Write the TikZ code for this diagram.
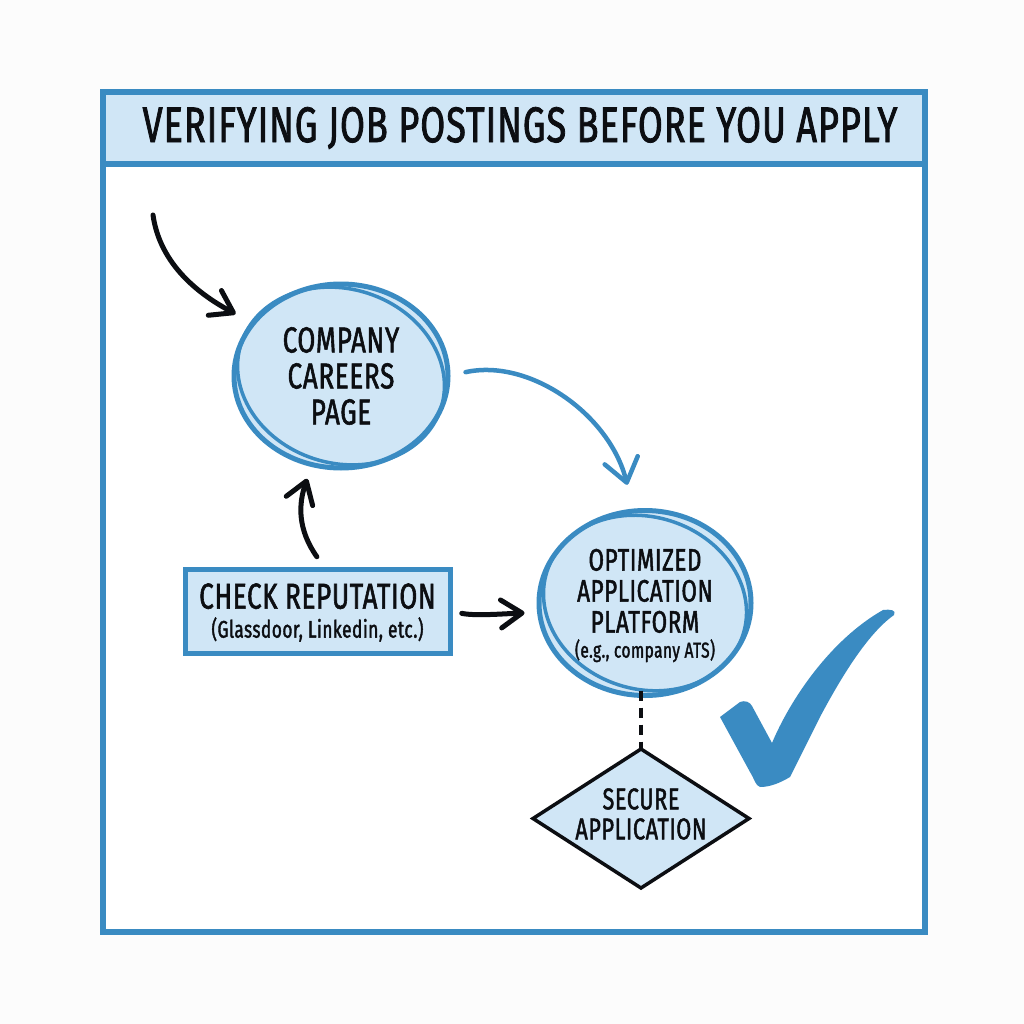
\documentclass[tikz,border=0pt]{standalone}
\usepackage{fontspec}
\usetikzlibrary{shapes.geometric,arrows.meta}
\setmainfont[FakeStretch=0.72,FakeBold=1.6,LetterSpace=2]{Fira Sans}
\definecolor{bluemain}{HTML}{3A8BC2}
\definecolor{bluefill}{HTML}{D0E6F6}
\definecolor{inkblack}{HTML}{0C0E12}
\newcommand{\fs}[2]{\fontsize{#1}{#2}\selectfont}
% text stack that does not change the size of its shape: #1 vertical shift, #2 lines
\newcommand{\stacked}[2]{\makebox[0pt]{\raisebox{#1}[0pt][0pt]{\parbox{300pt}{\centering #2}}}}
\tikzset{
  x=1pt,y=-1pt,
  panel/.style={draw=bluemain,line width=6pt,outer sep=0pt,inner sep=0pt},
  bubble/.style={ellipse,draw=bluemain,fill=bluefill,line width=5pt,outer sep=0pt,inner sep=0pt,align=center,text=inkblack},
  ringline/.style={draw=bluemain,line width=3.5pt},
  ink/.style={draw=inkblack,line width=5pt,line cap=round,-{Straight Barb[length=21pt,width=28pt,line cap=round,round]}},
  inkblue/.style={draw=bluemain,line width=4.5pt,line cap=round,-{Straight Barb[length=23pt,width=34pt,line cap=round,round]}},
  label/.style={text=inkblack,align=center,inner sep=0pt},
}
\begin{document}
\begin{tikzpicture}
\useasboundingbox (0,0) rectangle (1024,1024);
\fill[white!99!black] (0,0) rectangle (1024,1024);
% frame and header
\node[panel,minimum width=822pt,minimum height=840pt,fill=white] (frame) at (514,512) {};
\node[panel,minimum width=822pt,minimum height=72pt,fill=bluefill] (header) at (514,128) {};
\node[label,font=\fs{50}{50}] (title) at (520,128) {VERIFYING JOB POSTINGS BEFORE YOU APPLY};
% company
\node[bubble,minimum width=214pt,minimum height=184pt,font=\fs{36}{36}] (company) at (341,376) {COMPANY\\CAREERS\\PAGE};
\draw[ringline,rotate around={-18:(company.center)}] (company.center) ellipse [x radius=105,y radius=87];
% check reputation
\node[rectangle,draw=bluemain,fill=bluefill,line width=5pt,outer sep=0pt,inner sep=0pt,minimum width=265pt,minimum height=84pt,text=inkblack] (check) at (317.5,611)
  {\stacked{-4pt}{\fs{36}{29}CHECK REPUTATION\\{\fs{24}{29}(Glassdoor, Linkedin, etc.)}}};
% optimized
\node[bubble,minimum width=212pt,minimum height=185pt] (optimized) at (645,603)
  {\stacked{-5pt}{\fs{31}{31}OPTIMIZED\\APPLICATION\\PLATFORM\\[-6pt]{\fs{21.5}{24}(e.g., company ATS)}}};
\draw[ringline,rotate around={-18:(optimized.center)}] (optimized.center) ellipse [x radius=103,y radius=86];
% secure
\node[diamond,draw=inkblack,fill=bluefill,line width=3.5pt,outer sep=0pt,inner sep=0pt,shape aspect=1.55,minimum width=216pt,minimum height=139pt,text=inkblack] (secure) at (641,818.5)
  {\stacked{2pt}{\fs{30}{30}SECURE\\APPLICATION}};
% connectors
\coordinate (entry) at (153,215);
\draw[ink,shorten >=20pt] (entry) .. controls (160,265) and (200,295) .. (company.149);
\draw[inkblue,shorten <=18pt,shorten >=27pt] (company.east) .. controls (530,358) and (610,415) .. (optimized.97);
\draw[ink,shorten <=15pt,shorten >=15pt] ([xshift=8pt]check.north) .. controls (298,530) and (298,505) .. (company.252);
\draw[ink,shorten <=12pt,shorten >=15pt] (check.east) .. controls (475,616) and (500,614) .. (optimized.185);
\draw[draw=inkblack,line width=4.5pt,dash pattern=on 10pt off 7pt] (secure.north |- optimized.south) ++(0,-5) -- (secure.north);
% check mark
\fill[bluemain] (720,717) -- (740,702) .. controls (745,700) and (750,702) .. (752,706) -- (772,743)
  .. controls (790,700) and (830,640) .. (883,610) .. controls (890,609) and (897,610) .. (894,615)
  .. controls (870,632) and (845,670) .. (820,717) -- (790,777) .. controls (780,783) and (770,787) .. (760,787)
  .. controls (755,785) and (755,780) .. (750,772) -- cycle;
\end{tikzpicture}
\end{document}
